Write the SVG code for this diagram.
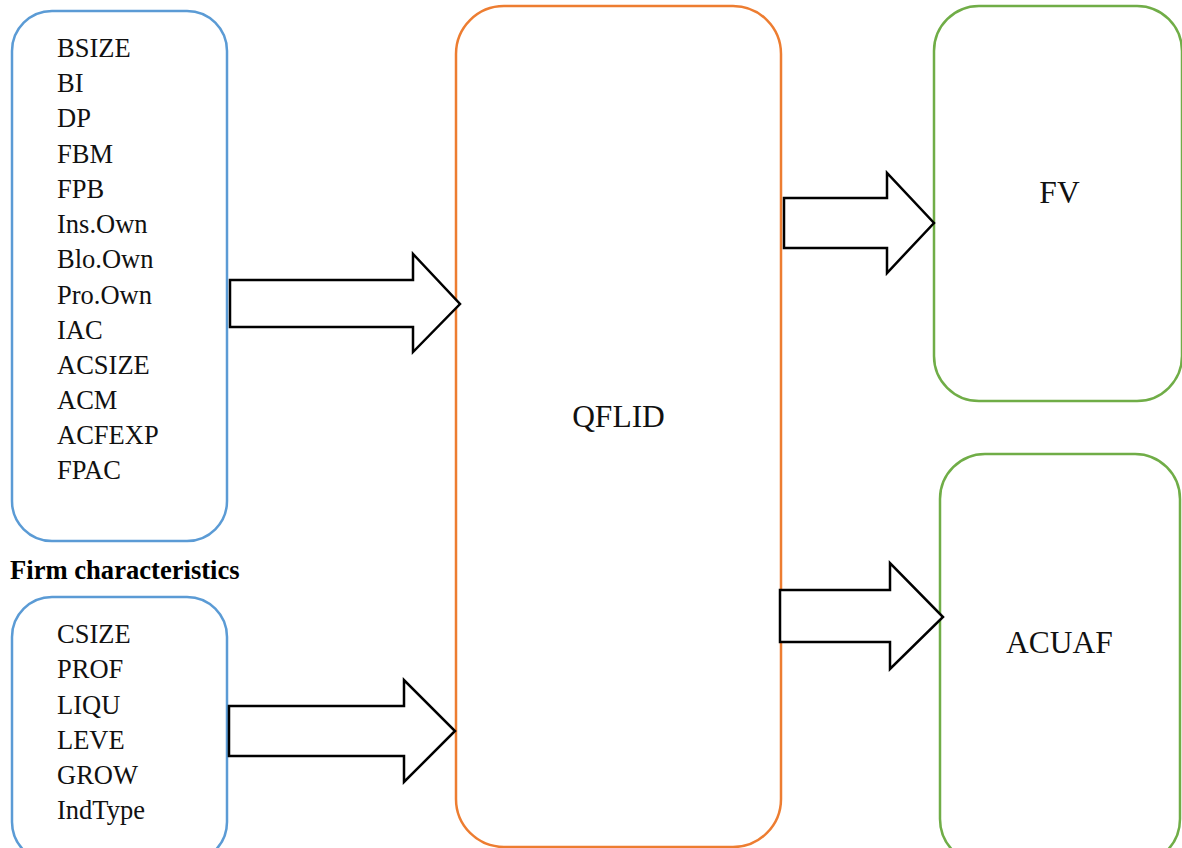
<svg xmlns="http://www.w3.org/2000/svg" width="1182" height="848" viewBox="0 0 1182 848">
  <style>
    .box { fill: #ffffff; stroke-width: 2.5; }
    .blue { stroke: #5B9BD5; }
    .orange { stroke: #ED7D31; }
    .green { stroke: #70AD47; }
    .item { font-family: "Liberation Serif", "Times New Roman", serif; font-size: 26.5px; fill: #111111; }
    .title { font-family: "Liberation Serif", "Times New Roman", serif; font-size: 31.5px; fill: #111111; text-anchor: middle; }
    .heading { font-family: "Liberation Serif", "Times New Roman", serif; font-size: 26.6px; font-weight: bold; fill: #000000; }
    .arrow { fill: #ffffff; stroke: #000000; stroke-width: 2.5; stroke-linejoin: miter; }
  </style>
  <rect width="1182" height="848" fill="#ffffff"/>

  <!-- governance variables -->
  <g id="governance">
    <rect class="box blue" x="12" y="11" width="215" height="530" rx="40" ry="40"/>
    <text class="item" x="57" y="57">BSIZE</text>
    <text class="item" x="57" y="92">BI</text>
    <text class="item" x="57" y="127">DP</text>
    <text class="item" x="57" y="162.5">FBM</text>
    <text class="item" x="57" y="197.5">FPB</text>
    <text class="item" x="57" y="233">Ins.Own</text>
    <text class="item" x="57" y="268">Blo.Own</text>
    <text class="item" x="57" y="303.5">Pro.Own</text>
    <text class="item" x="57" y="338.5">IAC</text>
    <text class="item" x="57" y="374">ACSIZE</text>
    <text class="item" x="57" y="409">ACM</text>
    <text class="item" x="57" y="444">ACFEXP</text>
    <text class="item" x="57" y="479">FPAC</text>
  </g>

  <!-- firm characteristics -->
  <g id="firm">
    <text class="heading" x="10" y="579">Firm characteristics</text>
    <rect class="box blue" x="12" y="597" width="215" height="265" rx="40" ry="40"/>
    <text class="item" x="57" y="643">CSIZE</text>
    <text class="item" x="57" y="678">PROF</text>
    <text class="item" x="57" y="714">LIQU</text>
    <text class="item" x="57" y="749">LEVE</text>
    <text class="item" x="57" y="784">GROW</text>
    <text class="item" x="57" y="819">IndType</text>
  </g>

  <!-- central construct -->
  <g id="qflid">
    <rect class="box orange" x="456" y="6" width="325" height="841" rx="48" ry="48"/>
    <text class="title" x="618.5" y="427">QFLID</text>
  </g>

  <!-- outcomes -->
  <g id="fv">
    <rect class="box green" x="934" y="6" width="248" height="395" rx="45" ry="45"/>
    <text class="title" x="1059.5" y="203">FV</text>
  </g>
  <g id="acuaf">
    <rect class="box green" x="940" y="454" width="240" height="410" rx="45" ry="45"/>
    <text class="title" x="1059.5" y="653">ACUAF</text>
  </g>

  <!-- block arrows -->
  <g id="connectors">
    <polygon class="arrow" points="230,280 413,280 413,254 460,304 413,352 413,327 230,327"/>
    <polygon class="arrow" points="229,706 404,706 404,680 455,731 404,782 404,756 229,756"/>
    <polygon class="arrow" points="784,198 887,198 887,173 934,223 887,273 887,248 784,248"/>
    <polygon class="arrow" points="780,590 890,590 890,563 943,617 890,669 890,642 780,642"/>
  </g>
</svg>
